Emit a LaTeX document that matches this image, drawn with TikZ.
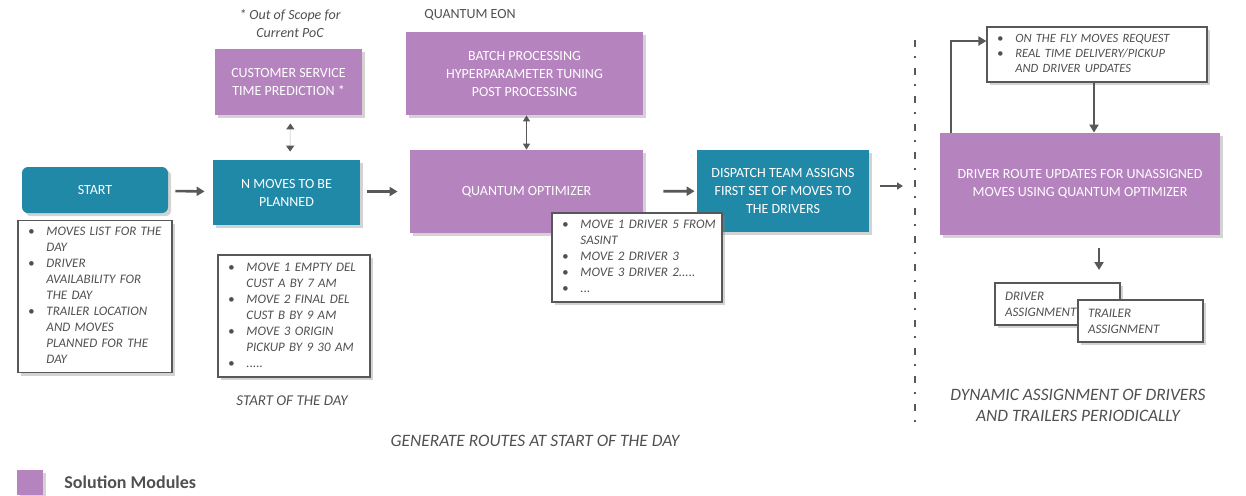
\documentclass[tikz,border=0pt]{standalone}
\usepackage{fontspec}
\setmainfont{Carlito}
\usepackage{tikz}
\usetikzlibrary{arrows.meta,shadows,positioning}

\definecolor{modpurple}{RGB}{181,131,190}
\definecolor{teamteal}{RGB}{33,137,168}
\definecolor{linegray}{RGB}{88,88,88}
\definecolor{labelgray}{RGB}{80,80,80}

\newcommand{\blist}[1]{\begin{tabular}{@{}l@{\hspace{6pt}}l@{}}#1\end{tabular}}

\tikzset{
	boxshadow/.style={drop shadow={shadow xshift=1.6pt, shadow yshift=-1.6pt, opacity=0.35}},
	modbox/.style={fill=modpurple, text=white, align=center, boxshadow,
		font=\fontsize{7}{9}\selectfont},
	teambox/.style={fill=teamteal, text=white, align=center, boxshadow,
		font=\fontsize{7}{9}\selectfont},
	listbox/.style={draw=linegray, line width=0.6pt, fill=white, align=left, boxshadow,
		inner xsep=5pt, inner ysep=2pt, text=labelgray,
		font=\fontsize{6.5}{8}\selectfont\itshape},
	flowarrow/.style={draw=linegray, line width=1.3pt, -{Triangle[length=4pt, width=4.5pt]}},
	thinarrow/.style={draw=linegray, line width=0.6pt, {Triangle[length=3pt, width=3.5pt]}-{Triangle[length=3pt, width=3.5pt]}},
	sectiontitle/.style={font=\fontsize{8.7}{10.5}\selectfont\itshape, text=labelgray, align=center},
}

\begin{document}
\begin{tikzpicture}[x=0.5pt, y=-0.5pt]
	\useasboundingbox (0,0) rectangle (1246,495);

	% start of the day
	\node[teambox, rounded corners=3pt, minimum width=73pt, minimum height=23pt] (start) at (95,190) {START};
	\node[listbox, text width=67pt, minimum height=75.5pt] (startlist) at (95,296.5) {\blist{
		\textbullet & MOVES LIST FOR THE\\
		 & DAY\\
		\textbullet & DRIVER\\
		 & AVAILABILITY FOR\\
		 & THE DAY\\
		\textbullet & TRAILER LOCATION\\
		 & AND MOVES\\
		 & PLANNED FOR THE\\
		 & DAY}};

	\node[teambox, minimum width=73.5pt, minimum height=32.5pt] (nmoves) at (286.5,192.5) {N MOVES TO BE\\PLANNED};
	\node[modbox, minimum width=73.5pt, minimum height=33pt] (cstp) at (288.5,82) {CUSTOMER SERVICE\\TIME PREDICTION *};
	\node[font=\fontsize{7}{9}\selectfont\itshape, text=labelgray, align=center] (oos) at (290,24) {* Out of Scope for\\Current PoC};
	\node[listbox, text width=66pt, minimum height=61pt] (nlist) at (294,316) {\blist{
		\textbullet & MOVE 1 EMPTY DEL\\
		 & CUST A BY 7 AM\\
		\textbullet & MOVE 2 FINAL DEL\\
		 & CUST B BY 9 AM\\
		\textbullet & MOVE 3 ORIGIN\\
		 & PICKUP BY 9 30 AM\\
		\textbullet & .....}};
	\node[sectiontitle, font=\fontsize{7.5}{9}\selectfont\itshape] (sotd) at (292,401) {START OF THE DAY};

	% quantum optimizer
	\node[font=\fontsize{7}{9}\selectfont, text=labelgray] (qeon) at (470,15) {QUANTUM EON};
	\node[modbox, minimum width=118.5pt, minimum height=41.5pt] (batch) at (524.5,73.5) {BATCH PROCESSING\\HYPERPARAMETER TUNING\\POST PROCESSING};
	\node[modbox, minimum width=116.5pt, minimum height=41.5pt] (qopt) at (526.5,191.5) {QUANTUM OPTIMIZER};
	\node[teambox, minimum width=86pt, minimum height=41pt] (dispatch) at (783,191) {DISPATCH TEAM ASSIGNS\\FIRST SET OF MOVES TO\\THE DRIVERS};
	\node[listbox, text width=75pt, minimum height=44.5pt] (qlist) at (637,257.5) {\blist{
		\textbullet & MOVE 1 DRIVER 5 FROM\\
		 & SASINT\\
		\textbullet & MOVE 2 DRIVER 3\\
		\textbullet & MOVE 3 DRIVER 2.....\\
		\textbullet & ...}};

	\draw[flowarrow, shorten <=3.5pt, shorten >=4pt] (start) -- (nmoves);
	\draw[flowarrow, shorten <=3.5pt, shorten >=6pt] (nmoves.east |- qopt) -- (qopt);
	\draw[flowarrow, shorten <=10pt, shorten >=1pt] (qopt) -- (dispatch);
	\draw[draw=black!10, line width=0.6pt, {Triangle[length=3pt, width=4pt, color=linegray]}-{Triangle[length=3pt, width=4pt, color=linegray]}, shorten <=4pt, shorten >=4pt] ([xshift=1pt]cstp.south) -- ([xshift=1.75pt]nmoves.north);
	\draw[thinarrow] ([xshift=1pt]batch.south) -- (qopt.north);

	\node[sectiontitle] (genr) at (535,441) {GENERATE ROUTES AT START OF THE DAY};

	% separator
	\coordinate (septop) at (915,40);
	\coordinate (sepbot) at (915,430);
	\coordinate (sepin) at (903,186);
	\draw[draw=linegray, line width=1.2pt, dash pattern=on 3.5pt off 4.5pt on 1pt off 5pt] (septop) -- (sepbot);
	\draw[draw=linegray, line width=0.7pt, -{Triangle[length=3pt, width=3.5pt]}, shorten <=5.5pt] (dispatch.east |- sepin) -- (sepin);

	% dynamic assignment
	\node[listbox, text width=100pt, minimum height=27.5pt, font=\fontsize{6.3}{7.5}\selectfont\itshape] (flylist) at (1097,54.5) {\blist{
		\textbullet & ON THE FLY MOVES REQUEST\\
		\textbullet & REAL TIME DELIVERY/PICKUP\\
		 & AND DRIVER UPDATES}};
	\node[modbox, minimum width=140pt, minimum height=51pt] (route) at (1080,184) {DRIVER ROUTE UPDATES FOR UNASSIGNED\\MOVES  USING QUANTUM OPTIMIZER};
	\node[listbox, text width=52.5pt, minimum height=21pt, inner ysep=1pt] (drvassign) at (1057.5,304) {DRIVER\\ASSIGNMENT};
	\node[listbox, text width=52.5pt, minimum height=21pt, inner ysep=1pt] (trlassign) at (1140.5,321) {TRAILER\\ASSIGNMENT};
	\coordinate (asgin) at (1099,270);

	\draw[flowarrow, line width=1.1pt] ([xshift=-1.5pt]flylist.south) -- ([xshift=7pt]route.north);
	\draw[flowarrow, line width=1.1pt] ([xshift=5.5pt]route.north west) |- ([yshift=6.75pt]flylist.west);
	\draw[flowarrow, line width=1.1pt, shorten <=6.5pt] ([xshift=9.5pt]route.south) -- (asgin);

	\node[sectiontitle] (dyn) at (1078,405) {DYNAMIC ASSIGNMENT OF DRIVERS\\AND TRAILERS PERIODICALLY};

	% legend
	\node[fill=modpurple, minimum width=13pt, minimum height=12.5pt, boxshadow] (legsq) at (30,482.5) {};
	\node[right=7pt of legsq, font=\fontsize{9}{11}\selectfont\bfseries, text=labelgray] (legtxt) {Solution Modules};
\end{tikzpicture}
\end{document}
